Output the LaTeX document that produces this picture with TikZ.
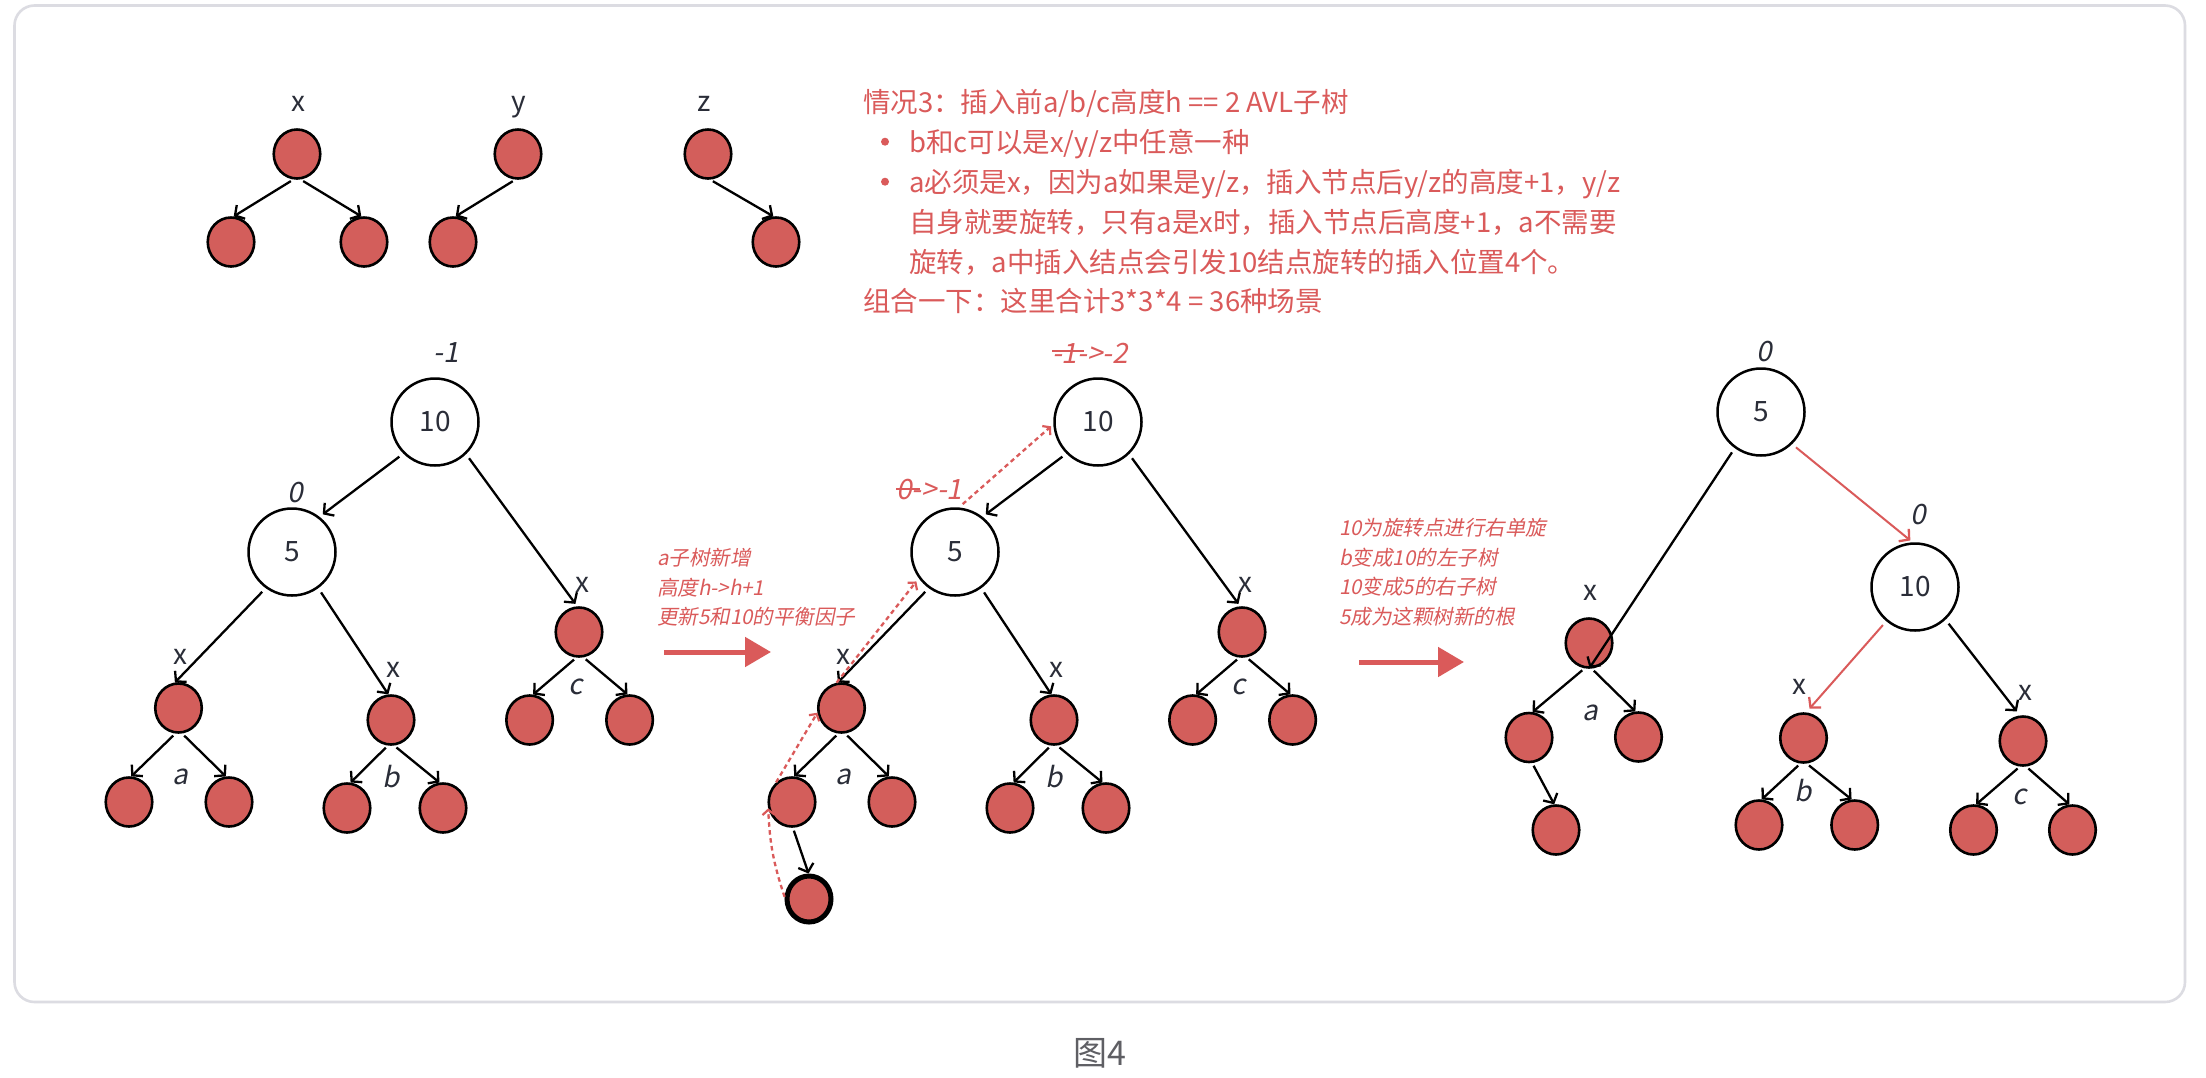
\documentclass[tikz,border=0pt]{standalone}
\usepackage{fontspec}
\setmainfont{Noto Sans CJK SC}
\newfontfamily\itfont{Noto Sans CJK SC}[FakeSlant=0.2]
\usetikzlibrary{arrows.meta,shapes.geometric}
\definecolor{nodered}{RGB}{211,94,91}
\definecolor{txtred}{RGB}{218,90,90}
\definecolor{lblgray}{RGB}{42,45,56}
\definecolor{framegray}{RGB}{220,220,226}
\definecolor{capgray}{RGB}{95,95,100}
\begin{document}
\begin{tikzpicture}[x=1pt,y=-1pt,
  leaf/.style={ellipse,draw=black,line width=2.6pt,fill=nodered,minimum width=46.5pt,minimum height=49pt,inner sep=0pt},
  big/.style={circle,draw=black,line width=2.5pt,fill=white,minimum size=87pt,inner sep=0pt,font=\fontsize{28}{28}\selectfont,text=lblgray},
  lbl/.style={inner sep=0pt,font=\fontsize{28}{28}\selectfont,text=lblgray},
  itl/.style={inner sep=0pt,font=\itfont\fontsize{28}{28}\selectfont,text=lblgray},
  ritl/.style={itl,text=txtred},
  arr/.style={line width=2.3pt,shorten <=3pt,-{Straight Barb[length=7pt,width=16pt,line width=2.3pt]}},
  arrred/.style={arr,draw=txtred,line width=2pt},
  dasharr/.style={draw=txtred,line width=2.3pt,dash pattern=on 4.5pt off 3.5pt,-{Straight Barb[length=5pt,width=12pt,line width=2.2pt]}},
  bigarr/.style={draw=txtred,line width=5pt,-{Triangle[length=26pt,width=29pt]}},
  body/.style={inner sep=0pt,anchor=base west,font=\fontsize{27.5}{27.5}\selectfont,text=txtred},
  anno/.style={inner sep=0pt,anchor=base west,font=\itfont\fontsize{20.5}{20.5}\selectfont,text=txtred}
]
\useasboundingbox (0,0) rectangle (2206,1077);
\fill[white] (0,0) rectangle (2206,1077);
\draw[framegray,line width=2.6pt,rounded corners=20pt] (14.5,5.5) rectangle (2185,1002);

% ---------- top small trees ----------
\node[leaf] (X1) at (297,154) {};
\node[leaf] (X1L) at (231,242) {};
\node[leaf] (X1R) at (364,242) {};
\node[lbl] (lx) at (298,104) {x};
\draw[arr] (X1.262) -- (X1L.84);
\draw[arr] (X1.278) -- (X1R.96);
\node[leaf] (Y1) at (518,154) {};
\node[leaf] (Y1L) at (453,242) {};
\node[lbl] (ly) at (519,107) {y};
\draw[arr] (Y1.264) -- (Y1L.84);
\node[leaf] (Z1) at (708,154) {};
\node[leaf] (Z1R) at (776,242) {};
\node[lbl] (lz) at (704,104) {z};
\draw[arr] (Z1.275) -- (Z1R.96);

% ---------- text block ----------
\node[body] (t1) at (863,112) {情况3：插入前a/b/c高度h == 2 AVL子树};
\fill[txtred] (885,141.7) circle (4pt);
\node[body] (t2) at (909,152) {b和c可以是x/y/z中任意一种};
\fill[txtred] (885,181.7) circle (4pt);
\node[body] (t3) at (909,192) {a必须是x，因为a如果是y/z，插入节点后y/z的高度+1，y/z};
\node[body] (t4) at (909,232) {自身就要旋转，只有a是x时，插入节点后高度+1，a不需要};
\node[body] (t5) at (909,272) {旋转，a中插入结点会引发10结点旋转的插入位置4个。};
\node[body] (t6) at (863,311) {组合一下：这里合计3*3*4 = 36种场景};

% ---------- trees 1 and 2 (common part) ----------
\foreach \s/\p in {0/A,663/B}{
\begin{scope}[xshift=\s]
\node[big] (R10\p) at (435,422) {10};
\node[big] (N5\p) at (292,552) {5};
\node[leaf] (Xc\p) at (579,632) {};
\node[leaf] (cL\p) at (529.6,720) {};
\node[leaf] (cR\p) at (629.6,720) {};
\node[leaf] (Xa\p) at (178.5,708) {};
\node[leaf] (aL\p) at (129,802) {};
\node[leaf] (aR\p) at (229,802) {};
\node[leaf] (Xb\p) at (391,720) {};
\node[leaf] (bL\p) at (347,808) {};
\node[leaf] (bR\p) at (443,808) {};
\node[lbl] (lxc\p) at (582,585) {x};
\node[lbl] (lxa\p) at (180,657) {x};
\node[lbl] (lxb\p) at (393.5,670) {x};
\node[itl] (la\p) at (180,777) {a};
\node[itl] (lb\p) at (391,777) {b};
\node[itl] (lc\p) at (576,687) {c};
\draw[arr,shorten <=5pt,shorten >=4pt] (R10\p.225) -- (N5\p.52);
\draw[arr,shorten <=5pt,shorten >=3pt] (R10\p.314) -- (Xc\p.94);
\draw[arr,shorten <=5pt] (N5\p.234) -- (Xa\p.98);
\draw[arr,shorten <=5pt] (N5\p.306) -- (Xb\p.96);
\draw[arr] (Xa\p.263) -- (aL\p.85);
\draw[arr] (Xa\p.278) -- (aR\p.97);
\draw[arr] (Xb\p.263) -- (bL\p.82);
\draw[arr] (Xb\p.277) -- (bR\p.98);
\draw[arr] (Xc\p.264) -- (cL\p.82);
\draw[arr] (Xc\p.280) -- (cR\p.95);
\end{scope}
}
\node[itl] (bf1) at (446,353) {-1};
\node[itl] (bf2) at (295.5,493) {0};

% ---------- tree 2 extras ----------
\node[leaf,line width=5pt,minimum width=44pt,minimum height=46pt] (NEW) at (809,899) {};
\draw[arr] (aLB.272) -- (NEW.91);
\node[ritl,anchor=west] (bf3) at (1052,353) {-1->-2};
\draw[txtred,line width=2pt] ([yshift=2.5pt]bf3.west) -- ++(32,0);
\node[ritl,anchor=west] (bf4) at (896,490) {0->-1};
\draw[txtred,line width=2pt] ([yshift=1pt]bf4.west) -- ++(24,0);
\draw[dasharr] (NEW.175) to[bend left=8] (aLB.195);
\draw[dasharr] (aLB.129) -- (XaB.191);
\draw[dasharr,shorten >=4pt] (XaB.101) -- (N5B.216);
\draw[dasharr,shorten <=5pt,shorten >=3pt] (N5B.85) -- (R10B.183);

% ---------- annotations and big arrows ----------
\node[anno] (m1) at (657,565) {a子树新增};
\node[anno] (m2) at (657,595) {高度h->h+1};
\node[anno] (m3) at (657,624) {更新5和10的平衡因子};
\coordinate (A1s) at (664,652);
\coordinate (A1e) at (771,652);
\draw[bigarr] (A1s) -- (A1e);
\node[anno] (r1) at (1339,535) {10为旋转点进行右单旋};
\node[anno] (r2) at (1339,565) {b变成10的左子树};
\node[anno] (r3) at (1339,594.5) {10变成5的右子树};
\node[anno] (r4) at (1339,624) {5成为这颗树新的根};
\coordinate (A2s) at (1359,662);
\coordinate (A2e) at (1464,662);
\draw[bigarr] (A2s) -- (A2e);

% ---------- tree 3 ----------
\node[big] (R5C) at (1761,412) {5};
\node[big] (N10C) at (1915,587) {10};
\node[leaf] (XaC) at (1589,643) {};
\node[leaf] (aLC) at (1529,737.5) {};
\node[leaf] (aRC) at (1638.5,737) {};
\node[leaf] (aGC) at (1556,830) {};
\node[leaf] (XbC) at (1803.5,738) {};
\node[leaf] (bLC) at (1759,825) {};
\node[leaf] (bRC) at (1854.7,825) {};
\node[leaf] (XcC) at (2023,741) {};
\node[leaf] (cLC) at (1973.5,830) {};
\node[leaf] (cRC) at (2072.5,830) {};
\node[itl] (bf5) at (1764,352) {0};
\node[itl] (bf6) at (1918,515) {0};
\node[lbl] (lxaC) at (1590.5,593) {x};
\node[lbl] (lxbC) at (1799.5,687) {x};
\node[lbl] (lxcC) at (2025.6,693) {x};
\node[itl] (laC) at (1590,713) {a};
\node[itl] (lbC) at (1803,791) {b};
\node[itl] (lcC) at (2020,797) {c};
\draw[arr,shorten <=5pt,shorten >=1pt] (R5C.234) -- (XaC.south);
\draw[arrred,shorten <=5pt,shorten >=3pt] (R5C.314.5) -- (N10C.93);
\draw[arrred,shorten <=5pt,shorten >=5pt] (N10C.230) -- (XbC.84);
\draw[arr,shorten <=5pt,shorten >=5pt] (N10C.313) -- (XcC.97);
\draw[arr] (XaC.260) -- (aLC.82);
\draw[arr] (XaC.276) -- (aRC.97);
\draw[arr] (aLC.277) -- (aGC.94);
\draw[arr] (XbC.263) -- (bLC.84);
\draw[arr] (XbC.277) -- (bRC.97);
\draw[arr] (XcC.263) -- (cLC.84);
\draw[arr] (XcC.277) -- (cRC.97);

% ---------- caption ----------
\node[inner sep=0pt,font=\fontsize{34}{34}\selectfont,text=capgray] (cap) at (1100,1053) {图4};
\end{tikzpicture}
\end{document}
